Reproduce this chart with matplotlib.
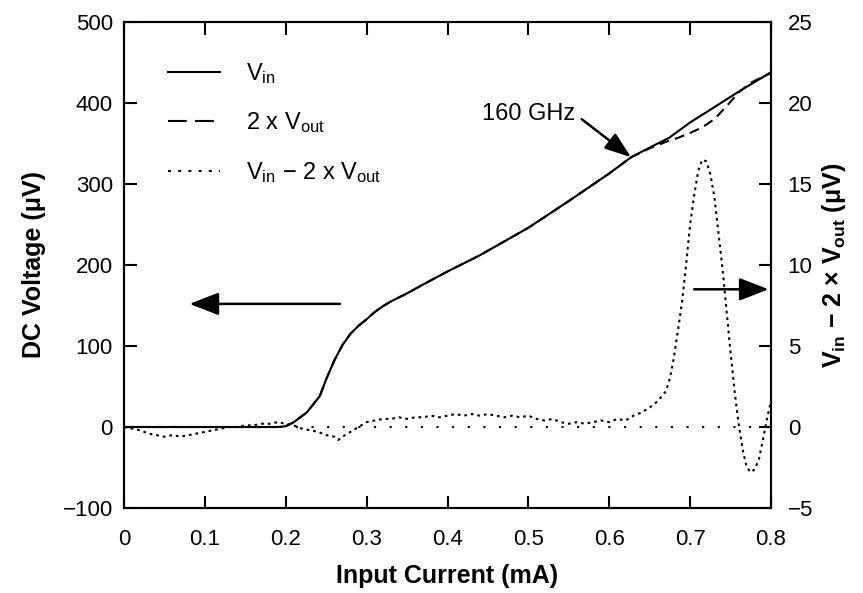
import matplotlib
matplotlib.use("Agg")
import matplotlib.pyplot as plt
from matplotlib.lines import Line2D

plt.rcParams['font.family'] = ['Liberation Sans', 'DejaVu Sans']
plt.rcParams['mathtext.fontset'] = 'custom'
plt.rcParams['mathtext.rm'] = 'Liberation Sans'
plt.rcParams['mathtext.it'] = 'Liberation Sans:italic'
plt.rcParams['mathtext.bf'] = 'Liberation Sans:bold'

# ---------------- data ----------------
vin_current = [0.00, 0.05, 0.10, 0.15, 0.19, 0.20, 0.21, 0.226, 0.242, 0.25, 0.26, 0.27,
               0.28, 0.29, 0.30, 0.31, 0.32, 0.33, 0.34, 0.35, 0.37, 0.40, 0.44, 0.50,
               0.55, 0.60, 0.627, 0.65, 0.674, 0.70, 0.727, 0.76, 0.785, 0.80]
vin_voltage = [0, 0, 0, 0, 0, 1, 6, 18, 38, 59, 82, 101,
               115, 125, 133, 142, 149, 155, 160, 165, 176, 192, 212, 246,
               279, 313, 333, 345, 357, 376, 393, 414, 429, 438]

vout2_current = [0.00, 0.05, 0.10, 0.15, 0.19, 0.20, 0.21, 0.226, 0.242, 0.25, 0.26, 0.27,
                 0.28, 0.29, 0.30, 0.31, 0.32, 0.33, 0.34, 0.35, 0.37, 0.40, 0.44, 0.50,
                 0.55, 0.60, 0.627, 0.65, 0.67, 0.685, 0.70, 0.715, 0.73, 0.745, 0.76,
                 0.775, 0.785, 0.80]
vout2_voltage = [0, 0, 0, 0, 0, 1, 6, 18, 38, 59, 82, 101,
                 115, 125, 133, 142, 149, 155, 160, 165, 176, 192, 212, 246,
                 279, 313, 333, 344, 352, 357, 363, 370, 380, 396, 413,
                 425, 430, 437]

diff_current = [0.00, 0.01, 0.02, 0.03, 0.04, 0.05, 0.06, 0.07, 0.08, 0.09, 0.10, 0.11,
                0.12, 0.13, 0.14, 0.15, 0.16, 0.17, 0.18, 0.19, 0.20, 0.21, 0.22, 0.23,
                0.24, 0.25, 0.26, 0.265, 0.27, 0.28, 0.29, 0.30, 0.31, 0.32, 0.33, 0.34,
                0.35, 0.36, 0.37, 0.38, 0.39, 0.40, 0.41, 0.42, 0.43, 0.44, 0.45, 0.46,
                0.47, 0.48, 0.49, 0.50, 0.51, 0.52, 0.53, 0.54, 0.55, 0.56, 0.57, 0.58,
                0.59, 0.60, 0.61, 0.62, 0.63, 0.64, 0.65, 0.66, 0.67, 0.675, 0.68, 0.685,
                0.69, 0.695, 0.70, 0.705, 0.71, 0.715, 0.72, 0.725, 0.73, 0.735, 0.74,
                0.745, 0.75, 0.755, 0.76, 0.765, 0.77, 0.775, 0.78, 0.785, 0.79, 0.795, 0.80]
diff_voltage = [0.0, -0.1, -0.2, -0.4, -0.5, -0.6, -0.5, -0.6, -0.5, -0.4, -0.3, -0.2,
                -0.1, 0.0, 0.0, 0.1, 0.1, 0.2, 0.2, 0.3, 0.2, 0.1, -0.1, -0.2,
                -0.3, -0.5, -0.6, -0.8, -0.6, -0.3, 0.0, 0.3, 0.4, 0.5, 0.5, 0.6,
                0.5, 0.6, 0.6, 0.7, 0.6, 0.7, 0.8, 0.7, 0.8, 0.7, 0.8, 0.7,
                0.6, 0.7, 0.6, 0.7, 0.5, 0.4, 0.5, 0.3, 0.2, 0.3, 0.2, 0.3,
                0.4, 0.3, 0.5, 0.4, 0.7, 0.9, 1.2, 1.6, 2.2, 3.0, 4.3, 6.0,
                7.7, 10.0, 12.5, 14.3, 15.8, 16.5, 16.4, 15.6, 14.2, 12.0, 9.8,
                7.2, 4.6, 2.2, 0.2, -1.4, -2.5, -2.8, -2.6, -2.0, -0.8, 0.5, 1.6]

zero_current = [0.0, 0.8]
zero_level = [0.0, 0.0]

x_ticks = [0.0, 0.1, 0.2, 0.3, 0.4, 0.5, 0.6, 0.7, 0.8]
x_tick_labels = ['0', '0.1', '0.2', '0.3', '0.4', '0.5', '0.6', '0.7', '0.8']
left_ticks = [-100, 0, 100, 200, 300, 400, 500]
left_tick_labels = ['\u2212100', '0', '100', '200', '300', '400', '500']
right_ticks = [-5, 0, 5, 10, 15, 20, 25]
right_tick_labels = ['\u22125', '0', '5', '10', '15', '20', '25']

# ---------------- figure ----------------
W, H = 863, 593
fig = plt.figure(figsize=(W / 100, H / 100), dpi=100)
ax = fig.add_axes([124 / W, 1 - 508 / H, (771 - 124) / W, (508 - 22) / H])
ax2 = ax.twinx()

lw = 1.5
ax.plot(vout2_current, vout2_voltage, color='black', lw=lw, linestyle=(0, (4.8, 2.9)))
ax.plot(vin_current, vin_voltage, color='black', lw=lw, solid_capstyle='butt')
ax2.plot(diff_current, diff_voltage, color='black', lw=lw, linestyle=(0, (1.3, 1.9)))
ax2.plot(zero_current, zero_level, color='black', lw=lw, linestyle=(0, (1.0, 6.5)))

ax.set_xlim(0, 0.8)
ax.set_ylim(-100, 500)
ax2.set_ylim(-5, 25)

ax.set_xticks(x_ticks)
ax.set_xticklabels(x_tick_labels)
ax.set_yticks(left_ticks)
ax.set_yticklabels(left_tick_labels)
ax2.set_yticks(right_ticks)
ax2.set_yticklabels(right_tick_labels)

tick_fs = 16
ax.tick_params(axis='both', direction='in', length=9, width=1.5, labelsize=tick_fs, pad=8)
ax.tick_params(axis='x', top=True, pad=15)
ax.tick_params(axis='y', right=False)
ax2.tick_params(axis='y', direction='in', length=9, width=1.5, labelsize=tick_fs, pad=12)
for a in (ax, ax2):
    for s in a.spines.values():
        s.set_linewidth(1.5)

lab_fs = 18
ax.set_xlabel('Input Current (mA)', fontsize=lab_fs, fontweight='bold', labelpad=10)
ax.set_ylabel('DC Voltage (\u03bcV)', fontsize=lab_fs, fontweight='bold', labelpad=12)
ax2.set_ylabel(r'$\mathbf{V_{in}}$ $\mathbf{-}$ $\mathbf{2}$ $\mathbf{\times}$ $\mathbf{V_{out}}$ ' + '(\u03bcV)',
               fontsize=lab_fs, fontweight='bold', labelpad=5)

# legend (proxy handles)
leg_fs = 17
handles = [Line2D([], [], color='black', lw=lw),
           Line2D([], [], color='black', lw=lw, linestyle=(0, (9, 4))),
           Line2D([], [], color='black', lw=lw, linestyle=(0, (1.4, 3.5)))]
labels = [r'V$_{\rm in}$', r'2 x V$_{\rm out}$', r'V$_{\rm in}$ $-$ 2 x V$_{\rm out}$']
leg = ax.legend(handles, labels, loc='upper left', bbox_to_anchor=(0.068, 0.92),
                frameon=False, fontsize=leg_fs, handlelength=2.2, handletextpad=1.1,
                labelspacing=1.05, borderpad=0, borderaxespad=0)

# annotations
head = dict(arrowstyle='-|>,head_length=0.9,head_width=0.35', color='black', lw=1.8,
            shrinkA=0, shrinkB=0, mutation_scale=20)
ax.annotate('', xy=(0.081, 152), xytext=(0.267, 152), arrowprops=head)
ax2.annotate('', xy=(0.797, 8.5), xytext=(0.705, 8.5), arrowprops=head)
head_small = dict(arrowstyle='-|>,head_length=0.9,head_width=0.32', color='black', lw=1.8,
                  shrinkA=0, shrinkB=0, mutation_scale=18)
ax.annotate('', xy=(0.627, 333), xytext=(0.566, 380), arrowprops=head_small)
ax.text(0.558, 386, '160 GHz', fontsize=leg_fs, ha='right', va='center')

fig.savefig('out.png', dpi=100)
